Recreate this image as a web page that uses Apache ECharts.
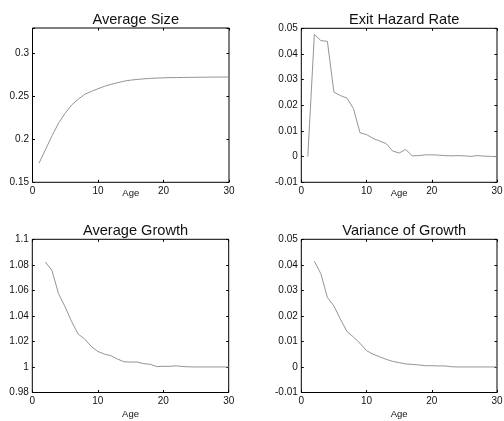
<!DOCTYPE html>
<html>
<head>
<meta charset="utf-8">
<script src="https://cdn.jsdelivr.net/npm/echarts@6/dist/echarts.min.js"></script>
<style>
  html, body { margin: 0; padding: 0; background: #fff; }
  #main { width: 504px; height: 421px; }
</style>
</head>
<body>
<div id="main"></div>
<script>
// ages
var ageSize = [1,2,3,4,5,6,7,8,9,10,11,12,13,14,15,16,17,18,19,20,21,22,23,24,25,26,27,28,29,30];
var ageHazard = [1,2,3,4,5,6,7,8,9,10,11,12,13,14,15,16,17,18,19,20,21,22,23,24,25,26,27,28,29,30];
var ageGrowth = [2,3,4,5,6,7,8,9,10,11,12,13,14,15,16,17,18,19,20,21,22,23,24,25,26,27,28,29,30];

// series values
var avgSize = [0.1723,0.1885,0.2046,0.2193,0.2308,0.2404,0.2470,0.2528,0.2560,0.2592,
               0.2620,0.2643,0.2662,0.2680,0.2692,0.2700,0.2707,0.2712,0.2716,0.2719,
               0.2721,0.2722,0.2723,0.2724,0.2725,0.2726,0.2727,0.2727,0.2728,0.2728];
var exitHazard = [0.0000,0.0476,0.0452,0.0449,0.0251,0.0238,0.0228,0.0187,0.0093,0.0086,
                  0.0071,0.0061,0.0051,0.0022,0.0014,0.0028,0.0003,0.0004,0.0007,0.0007,
                  0.0006,0.0004,0.0003,0.0004,0.0003,0.0001,0.0004,0.0002,0.0001,0.0000];
var avgGrowth = [1.0822,1.0756,1.0574,1.0472,1.0356,1.0258,1.0219,1.0161,1.0122,1.0101,
                 1.0088,1.0062,1.0041,1.0038,1.0039,1.0026,1.0021,1.0003,1.0005,1.0005,
                 1.0009,1.0003,1.0001,1.0000,1.0000,1.0000,1.0000,1.0000,1.0000];
var varGrowth = [0.0414,0.0365,0.0272,0.0239,0.0187,0.0139,0.0117,0.0093,0.0064,0.0050,
                 0.0040,0.0030,0.0022,0.0017,0.0012,0.0010,0.0008,0.0005,0.0005,0.0004,
                 0.0004,0.0001,0.0000,0.0000,0.0000,0.0000,0.0000,0.0000,0.0000];

// tick labels
var ageTicks = ['0','10','20','30'];
var sizeTicks = ['0.15','0.2','0.25','0.3'];
var hazardTicks = ['-0.01','0','0.01','0.02','0.03','0.04','0.05'];
var growthTicks = ['0.98','1','1.02','1.04','1.06','1.08','1.1'];
var varTicks = ['-0.01','0','0.01','0.02','0.03','0.04','0.05'];

var titles = ['Average Size','Exit Hazard Rate','Average Growth','Variance of Growth'];

var font = "'Liberation Sans', Arial, sans-serif";
var myChart = echarts.init(document.getElementById('main'));

// plot boxes
var boxes = [
  {left: 32.5, top: 28, width: 196.5, height: 154.3},
  {left: 301.3, top: 28.3, width: 195.7, height: 154},
  {left: 32.3, top: 239.3, width: 196.4, height: 153.2},
  {left: 301.3, top: 239.3, width: 195.7, height: 153.2}
];
var yRanges = [
  {min: 0.15, max: 0.33, interval: 0.05, ticks: sizeTicks},
  {min: -0.01, max: 0.05, interval: 0.01, ticks: hazardTicks},
  {min: 0.98, max: 1.1, interval: 0.02, ticks: growthTicks},
  {min: -0.01, max: 0.05, interval: 0.01, ticks: varTicks}
];
var nameGaps = [6.5, 6.5, 17, 17];
var ages = [ageSize, ageHazard, ageGrowth, ageGrowth];
var values = [avgSize, exitHazard, avgGrowth, varGrowth];

function pick(list) {
  return function (v) {
    for (var i = 0; i < list.length; i++) {
      if (Math.abs(parseFloat(list[i]) - v) < 1e-9) return list[i];
    }
    return '';
  };
}

var tick = {inside: true, length: 2.5, lineStyle: {color: '#000'}};
var grid = [], xAxis = [], yAxis = [], series = [], title = [];
boxes.forEach(function (b, i) {
  grid.push({left: b.left, top: b.top, width: b.width, height: b.height,
    show: true, borderColor: '#000', borderWidth: 1, backgroundColor: '#fff',
    containLabel: false, outerBoundsMode: 'none'});
  title.push({text: titles[i], left: b.left + b.width / 2, top: b.top - 21,
    textAlign: 'center',
    textStyle: {fontFamily: font, fontSize: 14.6, fontWeight: 'normal', color: '#111'}});
  // bottom x axis
  xAxis.push({type: 'value', gridIndex: i, position: 'bottom', min: 0, max: 30, interval: 10,
    name: 'Age', nameLocation: 'middle', nameGap: nameGaps[i], nameMoveOverlap: false,
    nameTextStyle: {fontFamily: font, fontSize: 9.5, color: '#111'},
    axisLine: {show: false, onZero: false}, splitLine: {show: false},
    axisTick: tick,
    axisLabel: {margin: 3.5, fontFamily: font, fontSize: 10, color: '#111', formatter: pick(ageTicks)}});
  // left y axis
  var r = yRanges[i];
  yAxis.push({type: 'value', gridIndex: i, position: 'left', min: r.min, max: r.max, interval: r.interval,
    axisLine: {show: false, onZero: false}, splitLine: {show: false},
    axisTick: tick,
    axisLabel: {margin: 3.5, fontFamily: font, fontSize: 10, color: '#111', formatter: pick(r.ticks)}});
  series.push({type: 'line', xAxisIndex: i, yAxisIndex: i, showSymbol: false, symbol: 'none',
    silent: true, animation: false,
    lineStyle: {color: '#959595', width: 1},
    data: ages[i].map(function (a, k) { return [a, values[i][k]]; })});
});
// mirrored ticks on top and right
boxes.forEach(function (b, i) {
  var r = yRanges[i];
  xAxis.push({type: 'value', gridIndex: i, position: 'top', min: 0, max: 30, interval: 10,
    axisLine: {show: false, onZero: false}, splitLine: {show: false}, axisLabel: {show: false},
    axisTick: tick});
  yAxis.push({type: 'value', gridIndex: i, position: 'right', min: r.min, max: r.max, interval: r.interval,
    axisLine: {show: false, onZero: false}, splitLine: {show: false}, axisLabel: {show: false},
    axisTick: tick});
});

myChart.setOption({
  animation: false,
  backgroundColor: '#fff',
  title: title,
  grid: grid,
  xAxis: xAxis,
  yAxis: yAxis,
  series: series
});
</script>
</body>
</html>
